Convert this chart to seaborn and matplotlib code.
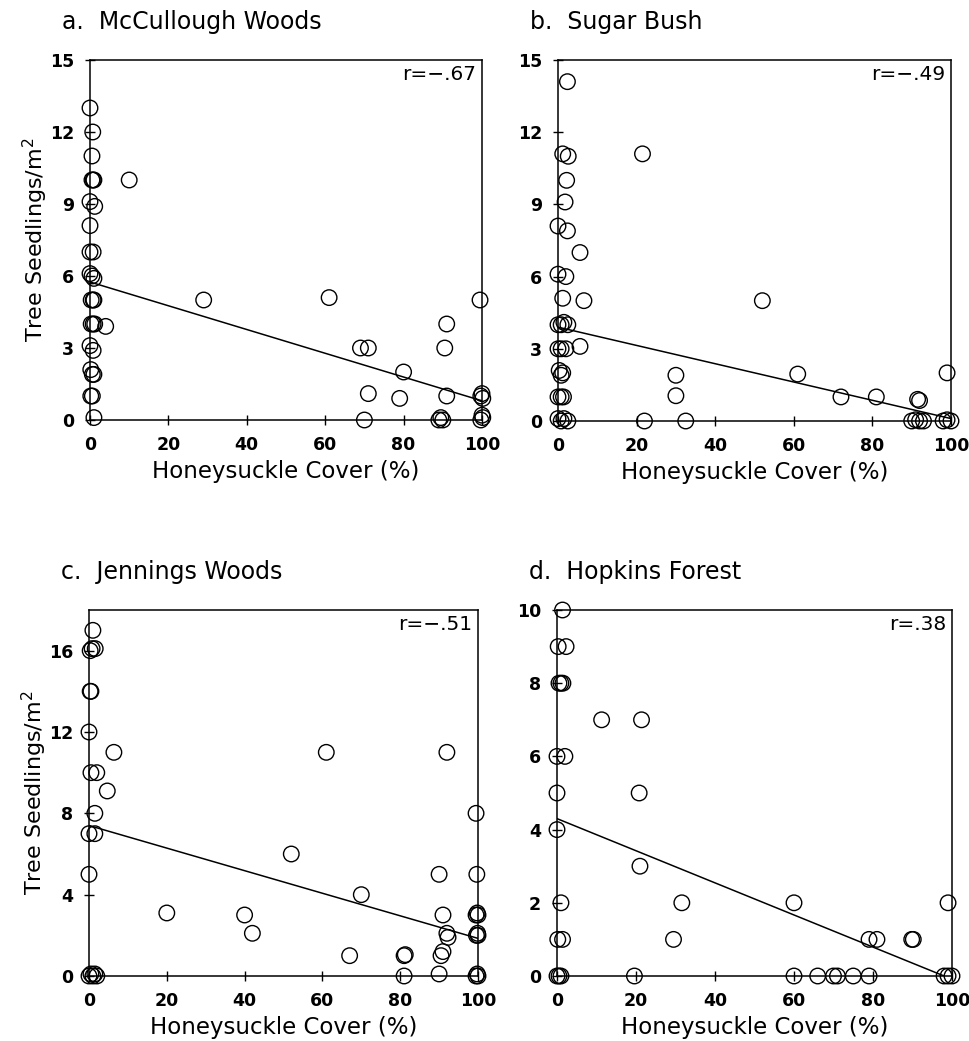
import matplotlib
matplotlib.use("Agg")
import matplotlib.pyplot as plt
import seaborn as sns

# panel a - McCullough Woods
a_pts = [(0, 13), (0.7, 12), (0.5, 11), (0.5, 10), (1, 10), (0.8, 10), (0, 9.1), (1.2, 8.9),
         (0, 8.1), (0, 7), (0.8, 7), (0, 6.1), (0.5, 6), (1, 5.9), (0.3, 5), (0.8, 5), (1, 5),
         (0.3, 4), (0.8, 4), (1.2, 4), (4, 3.9), (0, 3.1), (0.8, 2.9), (0.2, 2.1), (0.6, 1.9),
         (1, 1.9), (0.2, 1), (0.6, 1), (1, 0.1), (10, 10), (29, 5), (61, 5.1), (69, 3), (71, 3),
         (80, 2), (71, 1.1), (79, 0.9), (70, 0), (89, 0), (89.5, 0.1), (90, 0), (91, 4),
         (90.5, 3), (91, 1), (99.5, 5), (99.7, 1), (100, 1.1), (100.2, 0.9), (99.7, 0),
         (100, 0.2), (100.2, 0.1)]
# panel b - Sugar Bush
b_pts = [(2.4, 14.1), (1.2, 11.1), (2.6, 11), (2.2, 10), (1.8, 9.1), (0, 8.1), (2.4, 7.9),
         (5.6, 7), (0, 6.1), (2, 6), (1.2, 5.1), (6.6, 5), (0, 4), (0.8, 4), (1.5, 4.1), (2.5, 4),
         (5.6, 3.1), (0, 3), (0.8, 3), (2, 3), (0.3, 2.1), (0.8, 1.9), (1.2, 2), (0, 1), (0.8, 1),
         (1.4, 1), (0, 0.1), (0.8, 0), (1.5, 0.1), (2.5, 0), (21.5, 11.1), (30, 1.9), (30, 1.05),
         (22, 0), (32.5, 0), (52, 5), (61, 1.95), (72, 1), (81, 1), (91.5, 0.9), (92, 0.85),
         (90, 0), (91, 0.05), (92, 0), (93, 0), (99, 2), (98, 0), (99, 0.05), (100, 0)]
# panel c - Jennings Woods
c_pts = [(1, 17), (0.3, 16), (0.8, 16.1), (1.6, 16.1), (0.3, 14), (0.5, 14), (0, 12), (6.4, 11),
         (0.5, 10), (2, 10), (4.7, 9.1), (1.5, 8), (0, 7), (1.5, 7), (0, 5), (20, 3.1), (40, 3),
         (42, 2.1), (0, 0), (0.5, 0.1), (1, 0), (1.5, 0.1), (2, 0), (61, 11), (92, 11), (99.5, 8),
         (52, 6), (90, 5), (99.7, 5), (70, 4), (67, 1), (81, 1), (81.3, 1.05), (81, 0), (91, 3),
         (92, 2.1), (92.3, 1.9), (91, 1.2), (90.5, 1), (90, 0.1), (99.5, 3), (99.8, 3.1),
         (100, 3), (99.6, 2), (99.9, 2.1), (100, 2), (99.5, 0), (99.8, 0.1), (100, 0)]
# panel d - Hopkins Forest
d_pts = [(1.4, 10), (0.3, 9), (2.3, 9), (0.5, 8), (1, 8), (1.5, 8), (11.3, 7), (21.4, 7),
         (0, 6), (2, 6), (0, 5), (20.8, 5), (0, 4), (21, 3), (1, 2), (31.6, 2), (0.2, 1),
         (1.4, 1), (29.5, 1), (0, 0), (0.5, 0), (1, 0), (19.6, 0), (60, 2), (79, 1), (81, 1),
         (89.8, 1), (90.2, 1), (99, 2), (60, 0), (66, 0), (70, 0), (71, 0), (75, 0), (79, 0),
         (98, 0), (99, 0), (100, 0)]

# fitted lines: (x0, y0, x1, y1)
fit_lines = [(0, 5.75, 100, 0.8), (0, 3.9, 100, 0.1), (0, 7.4, 100, 1.85), (0, 4.3, 98, 0)]
titles = ["a.  McCullough Woods", "b.  Sugar Bush", "c.  Jennings Woods", "d.  Hopkins Forest"]
r_labels = ["r=\u2212.67", "r=\u2212.49", "r=\u2212.51", "r=.38"]
y_limits = [15, 15, 18, 10]
y_ticks = [[0, 3, 6, 9, 12, 15], [0, 3, 6, 9, 12, 15], [0, 4, 8, 12, 16], [0, 2, 4, 6, 8, 10]]
x_ticks = [0, 20, 40, 60, 80, 100]

sns.set_style("white")
plt.rcParams['font.family'] = ['DejaVu Sans']
plt.rcParams['text.color'] = 'black'
plt.rcParams['axes.labelcolor'] = 'black'

W, H = 969, 1041
fig = plt.figure(figsize=(W / 100, H / 100), dpi=100)

# axes boxes in pixels: left, top, right, bottom
boxes = [(90, 60, 482, 420), (558, 60, 951, 421), (89, 610, 478, 976), (557, 610, 952, 976)]
all_pts = [a_pts, b_pts, c_pts, d_pts]

for i in range(4):
    l, t, r, b = boxes[i]
    ax = fig.add_axes([l / W, 1 - b / H, (r - l) / W, (b - t) / H])
    xs = [p[0] for p in all_pts[i]]
    ys = [p[1] for p in all_pts[i]]
    sns.scatterplot(x=xs, y=ys, ax=ax, marker='o', s=125, facecolor='none',
                    edgecolor='black', linewidth=1.0, clip_on=False, zorder=3)
    x0, y0, x1, y1 = fit_lines[i]
    sns.lineplot(x=[x0, x1], y=[y0, y1], ax=ax, color='black', linewidth=1.1)

    ax.set_xlim(0, 100)
    ax.set_ylim(0, y_limits[i])
    ax.set_xticks(x_ticks)
    ax.set_yticks(y_ticks[i])
    ax.tick_params(direction='inout', length=7, width=1, colors='black',
                   labelsize=12.5, pad=8, bottom=True, left=True)
    for lab in ax.get_xticklabels() + ax.get_yticklabels():
        lab.set_fontweight('bold')
    for sp in ax.spines.values():
        sp.set_color('black')
        sp.set_linewidth(1.1)

    ax.set_xlabel("Honeysuckle Cover (%)", fontsize=16.5, labelpad=4)
    if i % 2 == 0:
        ax.set_ylabel("Tree Seedlings/m$^2$", fontsize=16, labelpad=0)
    else:
        ax.set_ylabel("")
    ax.text(0.985, 0.985, r_labels[i], transform=ax.transAxes, ha='right', va='top',
            fontsize=14.5)
    fig.text((l - 28) / W, 1 - (t - 38) / H, titles[i], ha='left', va='center', fontsize=17)

fig.savefig("out.png", dpi=100)
